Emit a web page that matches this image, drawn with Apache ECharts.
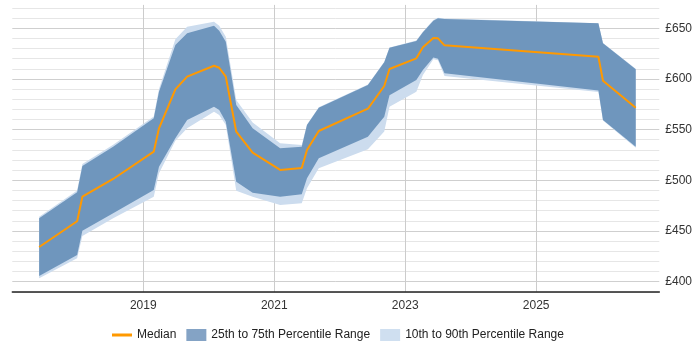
<!DOCTYPE html>
<html>
<head>
<meta charset="utf-8">
<script src="https://cdn.jsdelivr.net/npm/echarts@6/dist/echarts.min.js"></script>
<style>
html,body{margin:0;padding:0;background:#fff;}
#chart{width:700px;height:350px;}
</style>
</head>
<body>
<div id="chart"></div>
<script>
// Time points (decimal years)
const years = [2017.41, 2017.99, 2018.07, 2018.54, 2019.16, 2019.24, 2019.49, 2019.67, 2020.08, 2020.16,
  2020.26, 2020.42, 2020.67, 2021.09, 2021.42, 2021.50, 2021.68, 2022.43, 2022.68, 2022.76,
  2023.17, 2023.27, 2023.43, 2023.50, 2023.60, 2025.95, 2026.02, 2026.52];
const median = [434.2, 459.6, 483.8, 501.3, 528.2, 551.3, 589.7, 602.2, 613.0, 611.0,
  602.2, 547.9, 527.2, 510.2, 512.1, 529.9, 548.6, 570.6, 593.0, 609.8,
  620.3, 631.2, 640.3, 640.0, 633.1, 621.9, 598.2, 571.6];
const p75 = [462.5, 488.2, 514.1, 533.0, 561.1, 587.4, 633.4, 645.0, 652.5, 647.5,
  636.7, 574.3, 551.3, 531.6, 533.1, 554.5, 571.6, 594.0, 616.4, 630.8,
  637.4, 646.0, 657.4, 659.8, 659.1, 654.8, 635.1, 609.5];
const p25 = [405.6, 426.3, 450.3, 467.5, 490.4, 513.4, 541.4, 559.5, 572.6, 569.3,
  557.8, 498.6, 487.8, 483.8, 486.2, 502.0, 521.7, 543.0, 562.7, 584.0,
  599.0, 608.8, 621.0, 620.0, 605.5, 588.5, 559.5, 533.0];
const p90 = [464.0, 490.0, 516.0, 535.0, 563.0, 590.0, 639.0, 651.5, 656.5, 652.5,
  641.6, 579.2, 557.0, 536.6, 534.8, 555.0, 572.0, 594.5, 617.0, 631.0,
  638.0, 646.5, 658.0, 660.3, 659.5, 655.0, 635.5, 610.0];
const p10 = [403.3, 423.0, 445.0, 462.5, 483.8, 506.9, 539.0, 551.3, 567.7, 564.4,
  554.5, 489.7, 483.8, 475.6, 477.3, 492.1, 511.8, 530.6, 548.0, 572.6,
  587.4, 603.8, 619.3, 618.5, 602.9, 587.1, 559.0, 532.0];

const NAME_MED = 'Median';
const NAME_IQR = '25th to 75th Percentile Range';
const NAME_DEC = '10th to 90th Percentile Range';

const DARK = '#6f96bd';
const LIGHT = '#ccdcee';
const FONT = 'Arial, "Liberation Sans", sans-serif';

const pair = (arr) => years.map((x, i) => [x, arr[i]]);
const bandData = (lo, hi) => years.map((x, i) => [x, lo[i], hi[i]]);

function bandRenderer(lo, hi, color) {
  return function (params, api) {
    if (params.dataIndex !== 0) return null;
    const pts = [];
    for (let i = 0; i < years.length; i++) pts.push(api.coord([years[i], hi[i]]));
    for (let i = years.length - 1; i >= 0; i--) pts.push(api.coord([years[i], lo[i]]));
    return {
      type: 'polygon',
      shape: {points: pts},
      style: {fill: color, stroke: null},
      silent: true
    };
  };
}

const chart = echarts.init(document.getElementById('chart'), null, {renderer: 'canvas'});
chart.setOption({
  animation: false,
  grid: {left: 12.3, right: 40.7, top: 4.9, bottom: 58.2, containLabel: false},
  xAxis: {
    type: 'value', min: 2017, max: 2026.88, interval: 2,
    axisLine: {show: true, onZero: false, lineStyle: {color: '#222', width: 1.5}},
    axisTick: {show: false},
    axisLabel: {showMinLabel: false, showMaxLabel: false, color: '#333', fontSize: 12, fontFamily: FONT, margin: 8,
      formatter: v => String(Math.round(v))},
    splitLine: {show: true, showMinLine: false, showMaxLine: false, lineStyle: {color: '#cccccc', width: 1}}
  },
  yAxis: {
    type: 'value', position: 'right', min: 390, max: 673, interval: 10,
    axisLine: {show: false}, axisTick: {show: false},
    axisLabel: {color: '#333', fontSize: 12, fontFamily: FONT, margin: 6, align: 'left',
      showMinLabel: false, showMaxLabel: false,
      formatter: v => (Math.round(v) % 50 === 0 ? '£' + Math.round(v) : '')},
    splitLine: {show: true, showMaxLine: false,
      lineStyle: {color: ['#e6e6e6', '#cfcfcf', '#e6e6e6', '#e6e6e6', '#e6e6e6'], width: 1}}
  },
  legend: {
    left: 112, top: 329, padding: 0, itemGap: 10, itemWidth: 20, itemHeight: 12,
    textStyle: {color: '#222', fontSize: 12, fontFamily: FONT},
    data: [
      {name: NAME_MED, icon: 'path://M0,0H20V3H0Z', itemStyle: {color: '#ff9900'}},
      {name: NAME_IQR, icon: 'rect', itemStyle: {color: '#84a3c5'}},
      {name: NAME_DEC, icon: 'rect', itemStyle: {color: '#cfdff0'}}
    ]
  },
  series: [
    {type: 'custom', name: NAME_DEC, data: bandData(p10, p90), encode: {x: 0, y: [1, 2]},
      renderItem: bandRenderer(p10, p90, LIGHT), itemStyle: {color: LIGHT}, silent: true, z: 1},
    {type: 'custom', name: NAME_IQR, data: bandData(p25, p75), encode: {x: 0, y: [1, 2]},
      renderItem: bandRenderer(p25, p75, DARK), itemStyle: {color: DARK}, silent: true, z: 2},
    {type: 'line', name: NAME_MED, data: pair(median), symbol: 'none',
      lineStyle: {width: 2, color: '#ff9900'}, itemStyle: {color: '#ff9900'}, z: 5}
  ]
});
</script>
</body>
</html>
